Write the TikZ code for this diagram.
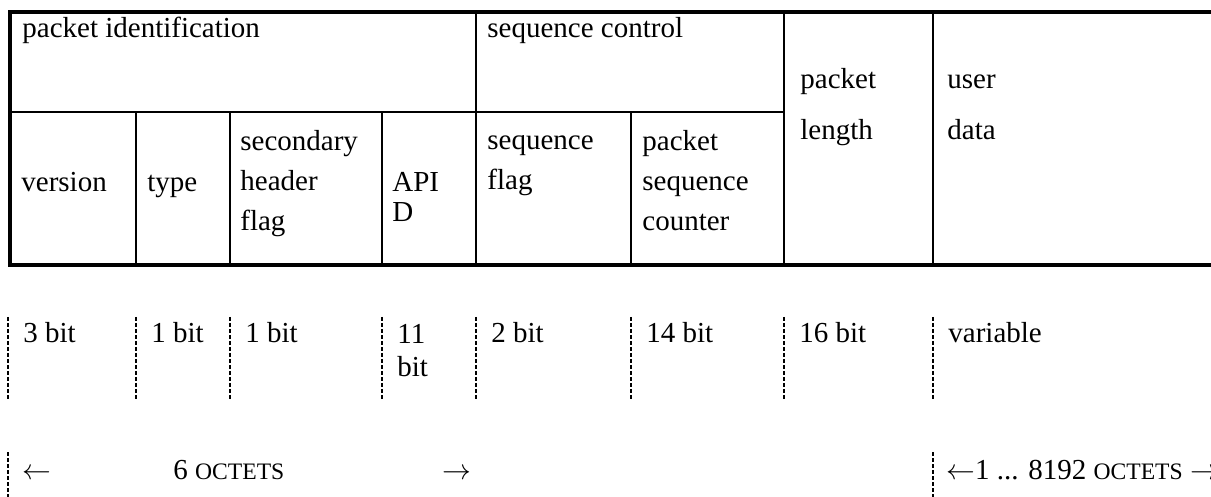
\documentclass[tikz,border=0pt]{standalone}
\usepackage{fontspec}
\setmainfont{Liberation Serif}

\newcommand{\octets}{{\fontsize{11.8}{13}\selectfont OCTETS}}

\begin{document}
\begin{tikzpicture}[
				x=0.5pt, y=-0.5pt,
				cell/.style = {
					anchor=base west, inner sep=0pt,
					align=left,
					font=\fontsize{14.5}{20}\selectfont
				},
				frame/.style = {line width=2pt},
				rule/.style = {line width=1pt},
				tick/.style = {
					line width=1.15pt,
					dash pattern=on 2pt off 1pt
				}
			]
				\useasboundingbox (0,0) rectangle (1211,497);
				\draw[frame] (1211,12) -- (10,12) -- (10,265) -- (1211,265);
				\draw[rule] (10,112) -- (784,112);
				\foreach \x in {476,784,933}
					\draw[rule] (\x,12) -- (\x,265);
				\foreach \x in {136,230,382,631}
					\draw[rule] (\x,112) -- (\x,265);
				\node[cell] (pid) at (22,38) {packet identification};
				\node[cell] (seqctl) at (487,38) {sequence control};
				\node[cell, font=\fontsize{14.5}{25.5}\selectfont] (len)
					at (800,140) {packet\\length};
				\node[cell, font=\fontsize{14.5}{25.5}\selectfont] (data)
					at (947,140) {user\\data};
				\node[cell] (ver) at (21,192) {version};
				\node[cell] (type) at (147,192) {type};
				\node[cell] (shf) at (240,231) {secondary\\header\\flag};
				\node[cell, font=\fontsize{14.5}{15}\selectfont] (apid)
					at (392,222) {API\\D};
				\node[cell] (sflag) at (487,190) {sequence\\flag};
				\node[cell] (count) at (642,231) {packet\\sequence\\counter};
				\foreach \x/\t/\y [count=\i] in {8/3 bit/343, 136/1 bit/343,
					230/1 bit/343, 382/11\\bit/377, 476/2 bit/343, 631/14 bit/343,
					784/16 bit/343, 933/variable/343} {
					\coordinate (t\i) at (\x,317);
					\coordinate (b\i) at (\x,400);
					\draw[tick] (t\i) -- (b\i);
					\node[cell, font=\fontsize{14.5}{17}\selectfont] (bits\i)
						at (\x+15,\y) {\t};
				}
				\coordinate (hl) at (8,452);
				\coordinate (hr) at (8,497);
				\draw[tick] (hl) -- (hr);
				\coordinate (ul) at (933,452);
				\coordinate (ur) at (933,497);
				\draw[tick] (ul) -- (ur);
				\node[cell] (hleft) at (22,480) {$\leftarrow$};
				\node[cell] (hsize) at (173,480) {6 \octets};
				\node[cell] (hright) at (442,480) {$\rightarrow$};
				\node[cell] (usize) at (946,480) {$\leftarrow$1 ... 8192 \octets{} $\rightarrow$};
			\end{tikzpicture}
\end{document}
